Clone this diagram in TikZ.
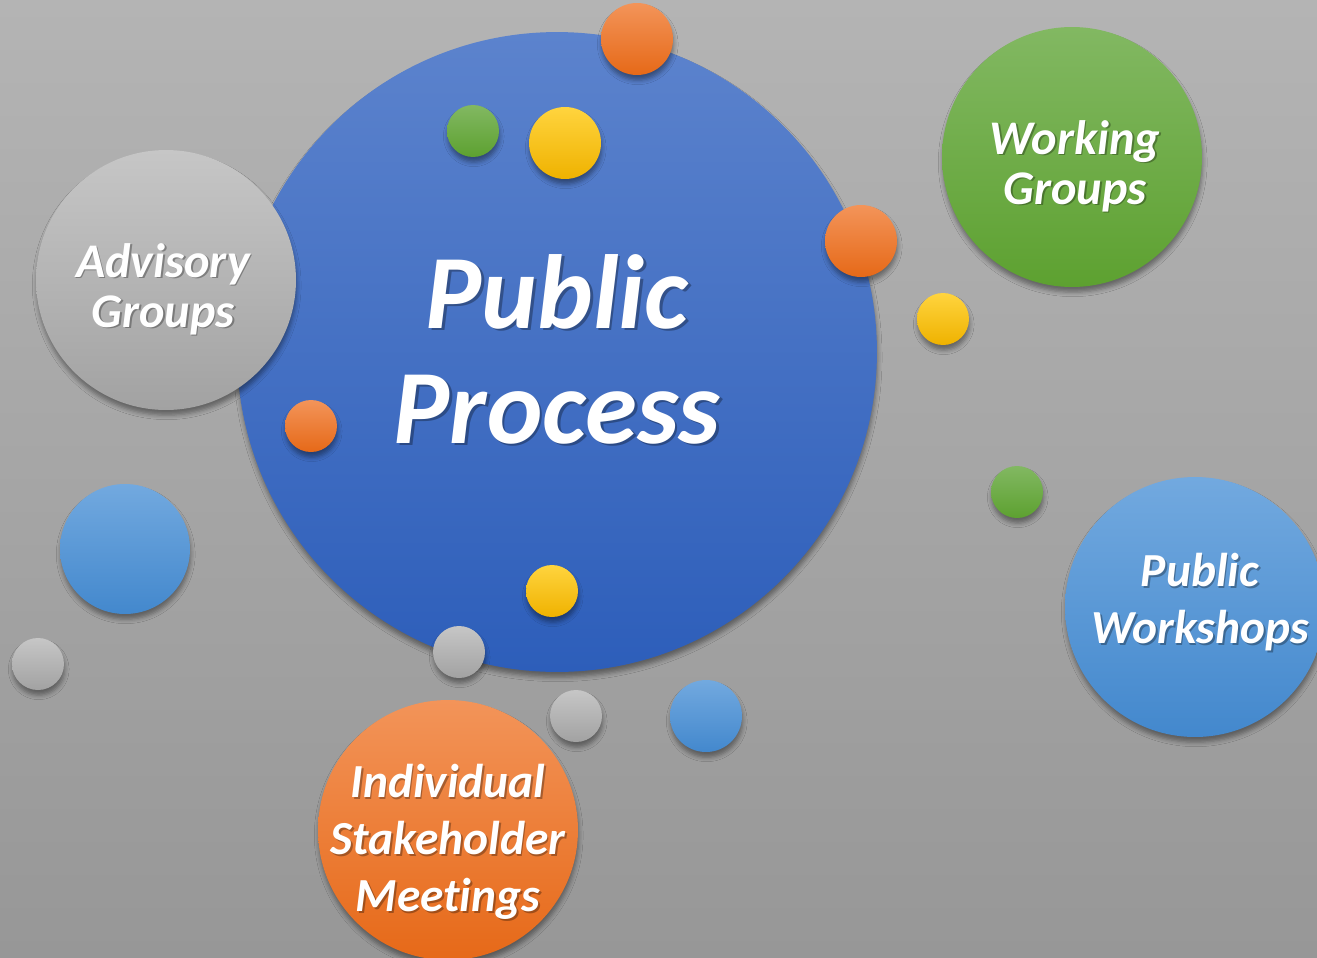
\documentclass[tikz,border=0pt]{standalone}
\usepackage{fontspec}
\setmainfont[Ligatures=NoCommon]{Carlito}
\usetikzlibrary{shadows.blur}

\definecolor{bgTop}{HTML}{B4B4B4}
\definecolor{bgBot}{HTML}{979797}
\definecolor{royalTop}{HTML}{5C83CD}
\definecolor{royalBot}{HTML}{2D5EBA}
\definecolor{skyTop}{HTML}{72A9DF}
\definecolor{skyBot}{HTML}{4388CD}
\definecolor{greenTop}{HTML}{82B862}
\definecolor{greenBot}{HTML}{5DA130}
\definecolor{orangeTop}{HTML}{F39459}
\definecolor{orangeBot}{HTML}{E66918}
\definecolor{yellowTop}{HTML}{FFD43E}
\definecolor{yellowBot}{HTML}{EFB200}
\definecolor{greyTop}{HTML}{C6C6C6}
\definecolor{greyBot}{HTML}{A2A2A2}

\tikzset{
  bubble/.style={circle, inner sep=0pt, minimum size=#1,
    blur shadow={shadow xshift=0.4pt, shadow yshift=-3pt,
                 shadow blur radius=2.5pt, shadow opacity=40}},
  royal/.style={top color=royalTop, bottom color=royalBot},
  sky/.style={top color=skyTop, bottom color=skyBot},
  leaf/.style={top color=greenTop, bottom color=greenBot},
  tangerine/.style={top color=orangeTop, bottom color=orangeBot},
  sun/.style={top color=yellowTop, bottom color=yellowBot},
  stone/.style={top color=greyTop, bottom color=greyBot},
  caption/.style={align=center, inner sep=0pt, text=white,
    font=\bfseries\itshape\fontsize{27.5}{28.5}\selectfont},
  bigcaption/.style={caption, font=\bfseries\itshape\fontsize{60}{65.5}\selectfont},
  midcaption/.style={caption, font=\bfseries\itshape\fontsize{27}{32.4}\selectfont},
  dropped/.style={text=black, opacity=0.3},
}

\begin{document}
\begin{tikzpicture}[x=0.02cm, y=-0.02cm]
  % backdrop
  \shade[top color=bgTop, bottom color=bgBot] (0,0) rectangle (1317,957);
  \useasboundingbox (0,0) rectangle (1317,957);
  \begin{scope}
    \clip (0,0) rectangle (1317,957);

    % central circle
    \node[bubble=12.8cm, royal] (core) at (557,352) {};

    % satellite circles
    \node[bubble=1.44cm, tangerine] (dotA) at (637,39) {};
    \node[bubble=1.04cm, leaf] (dotB) at (473,131) {};
    \node[bubble=1.44cm, sun] (dotC) at (565,143) {};
    \node[bubble=1.44cm, tangerine] (dotD) at (861,241) {};
    \node[bubble=1.04cm, sun] (dotE) at (943,319) {};
    \node[bubble=1.04cm, tangerine] (dotF) at (311,426) {};
    \node[bubble=1.04cm, leaf] (dotG) at (1017,492) {};
    \node[bubble=1.04cm, sun] (dotH) at (552,591) {};
    \node[bubble=1.04cm, stone] (dotI) at (459,652) {};
    \node[bubble=1.04cm, stone] (dotJ) at (576,716) {};
    \node[bubble=1.44cm, sky] (dotK) at (706,716) {};
    \node[bubble=1.04cm, stone] (dotL) at (38,664) {};
    \node[bubble=2.6cm, sky] (dotM) at (125,549) {};

    % labelled circles
    \node[bubble=5.2cm, stone] (advisory) at (166,280) {};
    \node[bubble=5.2cm, leaf] (working) at (1072,157) {};
    \node[bubble=5.2cm, sky] (workshops) at (1195,607) {};
    \node[bubble=5.2cm, tangerine] (meetings) at (448,830) {};

    % labels, each with a soft dark copy underneath
    \node[bigcaption, dropped, xshift=1.5pt, yshift=-1.5pt] (coreS) at (557,349) {Public\\Process};
    \node[bigcaption] (coreT) at (557,349) {Public\\Process};

    \node[caption, dropped, xshift=1pt, yshift=-1pt] (advisoryS) at (163,289) {Advisory\\Groups};
    \node[caption] (advisoryT) at (163,289) {Advisory\\Groups};

    \node[caption, dropped, xshift=1pt, yshift=-1pt] (workingS) at (1075,166) {Working\\Groups};
    \node[caption] (workingT) at (1075,166) {Working\\Groups};

    \node[midcaption, dropped, xshift=1pt, yshift=-1pt] (workshopsS) at (1200,602) {Public\\Workshops};
    \node[midcaption] (workshopsT) at (1200,602) {Public\\Workshops};

    \node[midcaption, dropped, xshift=1pt, yshift=-1pt] (meetingsS) at (448,842) {Individual\\Stakeholder\\Meetings};
    \node[midcaption] (meetingsT) at (448,842) {Individual\\Stakeholder\\Meetings};
  \end{scope}
\end{tikzpicture}
\end{document}
